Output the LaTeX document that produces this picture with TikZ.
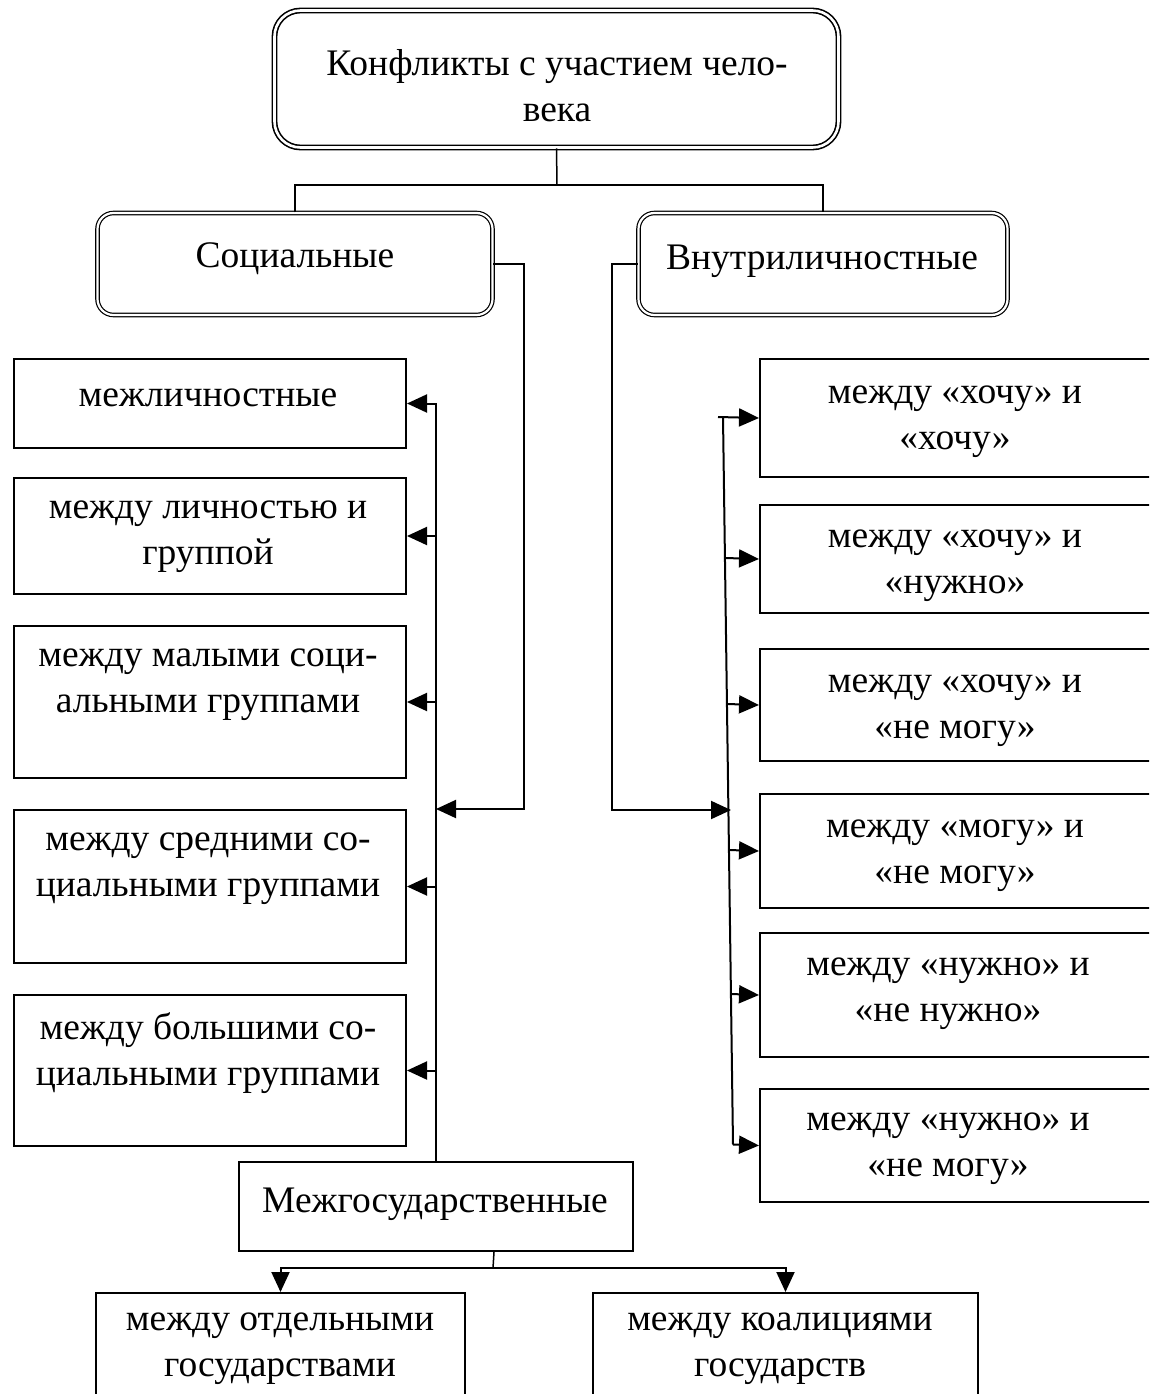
\documentclass[tikz,border=0pt]{standalone}
\usepackage{fontspec}
\setmainfont{Liberation Serif}
\usetikzlibrary{arrows.meta,calc}
\tikzset{
  txt/.style={align=center, inner sep=0pt, yshift=-6pt, font=\fontsize{37.5}{46}\selectfont},
  sbox/.style={draw, line width=2pt, inner sep=0pt, anchor=north west},
  dbox/.style={draw, line width=1.2pt, double, double distance=2.2pt, rounded corners=16pt, inner sep=0pt},
  tbox/.style={draw, line width=1.6pt, double, double distance=2.6pt, rounded corners=26pt, inner sep=0pt},
  conn/.style={line width=2pt},
  thin/.style={line width=1.5pt},
  arr/.style={line width=2pt, -{Triangle[length=20pt,width=18pt]}},
}
\begin{document}
\begin{tikzpicture}[x=1pt,y=-1pt]
\useasboundingbox (0,0) rectangle (1149,1394);
\clip (0,0) rectangle (1149,1394);
\fill[white] (0,0) rectangle (1149,1394);

% top
\node[tbox, minimum width=564pt, minimum height=137pt] (top) at (556.5,79) {};
\node[txt] (ttop) at (557,80) {Конфликты с участием чело-\\века};

% level 2
\node[dbox, minimum width=395pt, minimum height=102pt] (soc) at (295,264) {};
\node[txt] (tsoc) at (295,253) {Социальные};
\node[dbox, minimum width=369pt, minimum height=102pt] (inn) at (823,264) {};
\node[txt] (tinn) at (822,255) {Внутриличностные};

\coordinate (hub) at (557,185);
\draw[thin] (top.south) -- (hub);
\draw[thin] (soc.north) |- (hub) -| (inn.north);

% left boxes
\node[sbox, minimum width=392pt, minimum height=89pt] (b1) at (13,358) {};
\node[txt] (t1) at (208,392) {межличностные};
\node[sbox, minimum width=392pt, minimum height=116pt] (b2) at (13,477) {};
\node[txt] (t2) at (208,531) {между личностью и\\группой};
\node[sbox, minimum width=392pt, minimum height=152pt] (b3) at (13,625) {};
\node[txt] (t3) at (208,679) {между малыми соци-\\альными группами};
\node[sbox, minimum width=392pt, minimum height=153pt] (b4) at (13,809) {};
\node[txt] (t4) at (208,863) {между средними со-\\циальными группами};
\node[sbox, minimum width=392pt, minimum height=151pt] (b5) at (13,994) {};
\node[txt] (t5) at (208,1047) {между большими со-\\циальными группами};

% interstate
\node[sbox, minimum width=394pt, minimum height=89pt] (mezh) at (238,1161) {};
\node[txt] (tmezh) at (435,1198) {Межгосударственные};

% left trunk
\draw[arr] (mezh.north) |- (b1.east);
\draw[arr] (b2.east -| mezh.north) -- (b2.east);
\draw[arr] (b3.east -| mezh.north) -- (b3.east);
\draw[arr] (b4.east -| mezh.north) -- (b4.east);
\draw[arr] (b5.east -| mezh.north) -- (b5.east);

\coordinate (sc) at (524,809);
\draw[arr] (soc.east) -| (sc) -- (sc -| mezh.north);

% right boxes
\node[sbox, minimum width=420pt, minimum height=118pt] (r1) at (759,358) {};
\node[txt] (tr1) at (955,416) {между «хочу» и\\«хочу»};
\node[sbox, minimum width=420pt, minimum height=108pt] (r2) at (759,504) {};
\node[txt] (tr2) at (955,560) {между «хочу» и\\«нужно»};
\node[sbox, minimum width=420pt, minimum height=112pt] (r3) at (759,648) {};
\node[txt] (tr3) at (955,705) {между «хочу» и\\«не могу»};
\node[sbox, minimum width=420pt, minimum height=114pt] (r4) at (759,793) {};
\node[txt] (tr4) at (955,850) {между «могу» и\\«не могу»};
\node[sbox, minimum width=420pt, minimum height=124pt] (r5) at (759,932) {};
\node[txt] (tr5) at (948,988) {между «нужно» и\\«не нужно»};
\node[sbox, minimum width=420pt, minimum height=113pt] (r6) at (759,1088) {};
\node[txt] (tr6) at (948,1143) {между «нужно» и\\«не могу»};

% right trunk
\coordinate (rs) at (718,417);
\coordinate (rt1) at (723,417);
\coordinate (rt2) at (733,1144.5);
\draw[conn] (rt1) -- (rt2);
\draw[arr] (rs) -- (r1.west);
\coordinate (tap2) at (725,558);
\coordinate (tap3) at (727,704);
\coordinate (tap4) at (729,850);
\coordinate (tap5) at (731,994);
\draw[arr] (tap2) -- (r2.west);
\draw[arr] (tap3) -- (r3.west);
\draw[arr] (tap4) -- (r4.west);
\draw[arr] (tap5) -- (r5.west);
\draw[arr] (rt2) -- (r6.west);

\coordinate (ic) at (612,810);
\coordinate (tapin) at (731,810);
\draw[arr] (inn.west) -| (ic) -- (tapin);

% bottom boxes
\node[sbox, minimum width=369pt, minimum height=140pt] (bl) at (95,1292) {};
\node[txt] (tbl) at (280,1343) {между отдельными\\государствами};
\node[sbox, minimum width=385pt, minimum height=140pt] (br) at (592,1292) {};
\node[txt] (tbr) at (780,1343) {между коалициями\\государств};

\coordinate (mb) at ([xshift=58pt]mezh.south);
\coordinate (mh) at (493,1268);
\draw[thin] (mb) -- (mh);
\draw[arr] (mh) -| (bl.north);
\draw[arr] (mh) -| (br.north);
\end{tikzpicture}
\end{document}
